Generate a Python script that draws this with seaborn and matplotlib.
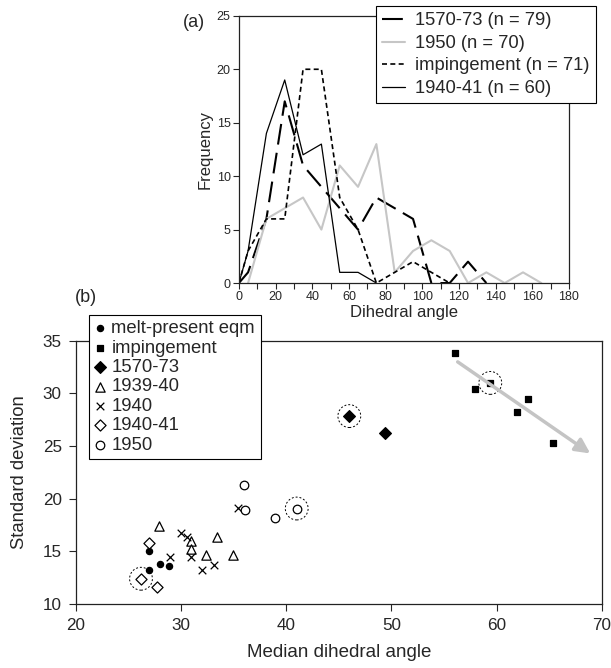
import numpy as np
import pandas as pd
import seaborn as sns
import matplotlib.pyplot as plt

# (a) frequency polygons of dihedral angle, 10 degree bins
angle_1570 = [0, 5, 15, 25, 35, 45, 55, 65, 75, 85, 95, 105, 115, 125, 135]
freq_1570 = [0, 1, 6, 17, 11, 9, 7, 5, 8, 7, 6, 0, 0, 2, 0]
angle_1950 = [5, 15, 25, 35, 45, 55, 65, 75, 85, 95, 105, 115, 125, 135, 145, 155, 165]
freq_1950 = [0, 6, 7, 8, 5, 11, 9, 13, 1, 3, 4, 3, 0, 1, 0, 1, 0]
angle_imp = [0, 5, 15, 25, 35, 45, 55, 65, 75, 85, 95, 105, 115]
freq_imp = [0, 3, 6, 6, 20, 20, 8, 5, 0, 1, 2, 1, 0]
angle_4041 = [0, 5, 15, 25, 35, 45, 55, 65, 75]
freq_4041 = [0, 3, 14, 19, 12, 13, 1, 1, 0]

# (b) median dihedral angle vs standard deviation
eqm_x = [27.0, 27.0, 28.0, 28.9]
eqm_y = [15.0, 13.2, 13.8, 13.6]
imp_x = [56.0, 57.9, 59.4, 63.0, 61.9, 65.4]
imp_y = [33.8, 30.4, 31.0, 29.5, 28.2, 25.3]
s1570_x = [46.0, 49.4]
s1570_y = [27.85, 26.2]
s3940_x = [27.95, 31.0, 31.0, 32.4, 33.45, 34.9]
s3940_y = [17.45, 16.0, 15.25, 14.7, 16.4, 14.7]
s1940_x = [30.0, 30.6, 31.0, 29.0, 32.0, 33.1, 35.45]
s1940_y = [16.7, 16.4, 14.5, 14.5, 13.2, 13.7, 19.1]
s4041_x = [27.0, 26.2, 27.7]
s4041_y = [15.8, 12.4, 11.65]
s1950_x = [36.0, 36.07, 38.96, 41.0]
s1950_y = [21.3, 18.9, 18.2, 19.07]
# points ringed with a dashed circle
ringed_x = [26.2, 41.0, 46.0, 59.4]
ringed_y = [12.4, 19.07, 27.85, 31.0]
arrow_start = (56.3, 33.0)
arrow_end = (68.9, 24.3)

sns.set_style("ticks")
plt.rcParams['font.family'] = ['Liberation Sans', 'DejaVu Sans']

fig = plt.figure(figsize=(6.11, 6.68), dpi=100)
ax1 = fig.add_axes([0.391, 0.5763, 0.540, 0.400])
ax2 = fig.add_axes([0.124, 0.0958, 0.861, 0.394])

sns.lineplot(x=angle_1570, y=freq_1570, ax=ax1, color='black', lw=1.5,
             linestyle=(0, (10, 4)), label='1570-73 (n = 79)')
sns.lineplot(x=angle_1950, y=freq_1950, ax=ax1, color='#c6c6c6', lw=1.5,
             label='1950 (n = 70)')
sns.lineplot(x=angle_imp, y=freq_imp, ax=ax1, color='black', lw=1.2,
             linestyle=(0, (3, 2)), label='impingement (n = 71)')
sns.lineplot(x=angle_4041, y=freq_4041, ax=ax1, color='black', lw=0.9,
             label='1940-41 (n = 60)')

ax1.set_xlim(0, 180)
ax1.set_ylim(0, 25)
ax1.set_xticks(range(0, 181, 20))
ax1.set_xticks(range(10, 181, 20), minor=True)
ax1.set_yticks(range(0, 26, 5))
ax1.tick_params(which='both', direction='out', length=4, width=0.8,
                labelsize=9, pad=2)
ax1.set_xlabel('Dihedral angle', fontsize=12, labelpad=1)
ax1.set_ylabel('Frequency', fontsize=12, labelpad=3)
leg1 = ax1.legend(loc='upper right', bbox_to_anchor=(0.976, 0.991),
                  bbox_transform=fig.transFigure, borderaxespad=0,
                  fontsize=13.2, frameon=True, fancybox=False, framealpha=1,
                  handlelength=1.25, handletextpad=0.55, labelspacing=0.3,
                  borderpad=0.35)
leg1.get_frame().set_edgecolor('black')
leg1.get_frame().set_linewidth(0.8)
fig.text(0.318, 0.966, '(a)', fontsize=13, ha='center', va='center')

mk = dict(ax=ax2, edgecolor='black', linewidth=0.9)
sns.scatterplot(x=eqm_x, y=eqm_y, marker='o', s=20, color='black',
                label='melt-present eqm', **mk)
sns.scatterplot(x=imp_x, y=imp_y, marker='s', s=24, color='black',
                label='impingement', **mk)
sns.scatterplot(x=s1570_x, y=s1570_y, marker='D', s=36, color='black',
                label='1570-73', **mk)
sns.scatterplot(x=s3940_x, y=s3940_y, marker='^', s=45, facecolor='white',
                label='1939-40', **mk)
sns.scatterplot(x=s1940_x, y=s1940_y, marker='x', s=30, color='black',
                linewidth=0.9, ax=ax2, label='1940')
sns.scatterplot(x=s4041_x, y=s4041_y, marker='D', s=32, facecolor='white',
                label='1940-41', **mk)
sns.scatterplot(x=s1950_x, y=s1950_y, marker='o', s=38, facecolor='white',
                label='1950', **mk)
sns.scatterplot(x=ringed_x, y=ringed_y, marker='o', s=270, facecolor='none',
                edgecolor='black', linewidth=0.7, linestyle=(0, (2, 2)),
                ax=ax2, legend=False)
ax2.annotate('', xy=arrow_end, xytext=arrow_start,
             arrowprops=dict(arrowstyle='-|>', color='#c4c4c4', lw=2.5,
                             mutation_scale=22, shrinkA=0, shrinkB=0))

ax2.set_xlim(20, 70)
ax2.set_ylim(10, 35)
ax2.set_xticks(range(20, 71, 10))
ax2.set_yticks(range(10, 36, 5))
ax2.tick_params(direction='out', length=5, width=0.8, labelsize=12.3, pad=5)
ax2.set_xlabel('Median dihedral angle', fontsize=13.5, labelpad=8)
ax2.set_ylabel('Standard deviation', fontsize=13.3, labelpad=11)
leg2 = ax2.legend(loc='upper left', bbox_to_anchor=(0.146, 0.529),
                  bbox_transform=fig.transFigure, borderaxespad=0,
                  fontsize=13.3, frameon=True, fancybox=False, framealpha=1,
                  handlelength=0.6, handletextpad=0.3, labelspacing=0.13,
                  borderpad=0.3)
leg2.get_frame().set_edgecolor('black')
leg2.get_frame().set_linewidth(0.8)
fig.text(0.14, 0.555, '(b)', fontsize=13, ha='center', va='center')

for ax in (ax1, ax2):
    for sp in ax.spines.values():
        sp.set_visible(True)
        sp.set_color('#222222')
        sp.set_linewidth(0.9)

fig.savefig('out.png', dpi=100)
